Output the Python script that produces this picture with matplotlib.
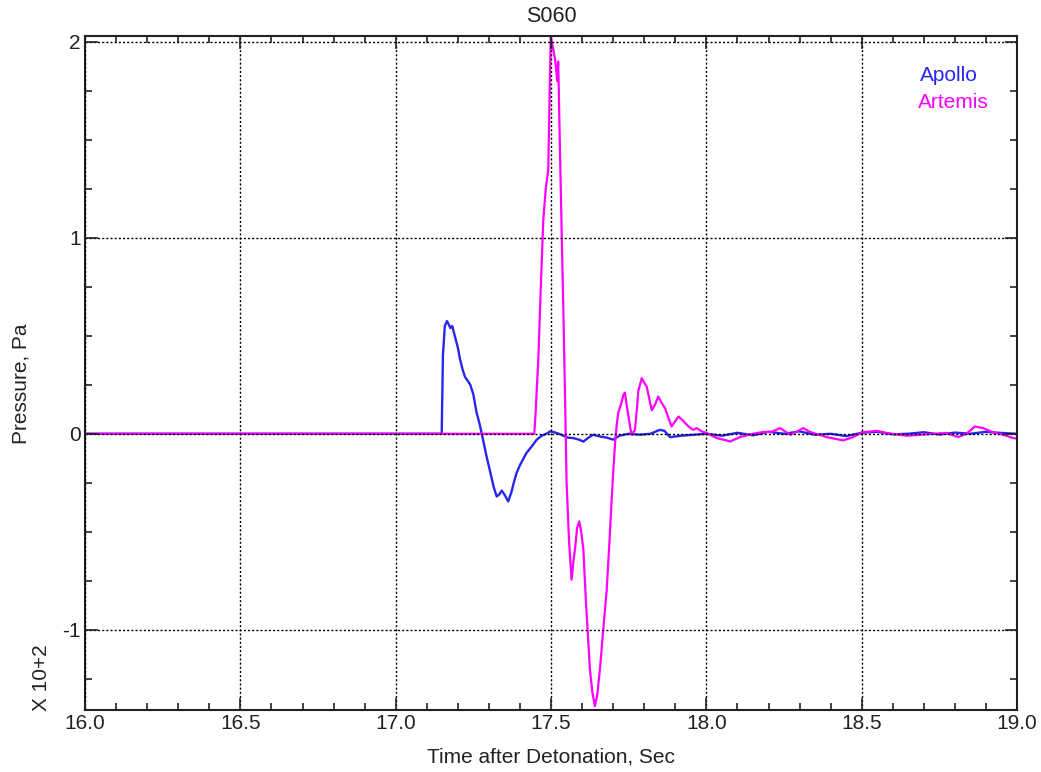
import matplotlib
matplotlib.use("Agg")
from matplotlib import pyplot as plt
from matplotlib.ticker import MultipleLocator, FormatStrFormatter

plt.rcParams['font.family'] = ['Liberation Sans', 'DejaVu Sans']

# Apollo trace (x 10^2 Pa)
apollo_t = [16.0, 17.148, 17.152, 17.158, 17.165, 17.170, 17.176, 17.182, 17.190,
            17.200, 17.207, 17.215, 17.223, 17.232, 17.240, 17.250, 17.260, 17.270,
            17.277, 17.285, 17.293, 17.305, 17.315, 17.325, 17.333, 17.341, 17.350,
            17.362, 17.372, 17.380, 17.389, 17.400, 17.420, 17.440, 17.454, 17.470,
            17.485, 17.497, 17.510, 17.525, 17.540, 17.555, 17.572, 17.590, 17.604,
            17.620, 17.636, 17.660, 17.680, 17.700, 17.720, 17.750, 17.786, 17.820,
            17.850, 17.865, 17.883, 17.920, 17.960, 18.000, 18.05, 18.10, 18.15,
            18.20, 18.25, 18.30, 18.35, 18.40, 18.45, 18.50, 18.55, 18.60, 18.65,
            18.70, 18.75, 18.80, 18.85, 18.90, 18.95, 19.0]
apollo_v = [0.0, 0.0, 0.40, 0.55, 0.575, 0.56, 0.54, 0.55, 0.50,
            0.44, 0.38, 0.33, 0.29, 0.27, 0.25, 0.20, 0.11, 0.05,
            0.0, -0.06, -0.12, -0.20, -0.27, -0.32, -0.31, -0.29, -0.31,
            -0.345, -0.30, -0.25, -0.20, -0.16, -0.10, -0.06, -0.03, -0.01,
            0.0, 0.012, 0.008, 0.0, -0.01, -0.02, -0.022, -0.03, -0.04,
            -0.02, -0.005, -0.015, -0.02, -0.03, -0.01, 0.0, -0.005, 0.0,
            0.02, 0.015, -0.017, -0.01, -0.005, 0.0, -0.01, 0.005, -0.008,
            0.01, 0.0, 0.012, -0.005, 0.0, -0.012, 0.005, 0.01, -0.003, 0.0,
            0.008, -0.004, 0.006, 0.0, 0.01, 0.004, 0.0]

# Artemis trace (x 10^2 Pa)
artemis_t = [16.0, 17.446, 17.450, 17.459, 17.467, 17.475, 17.483, 17.491, 17.495,
             17.499, 17.505, 17.513, 17.517, 17.520, 17.523, 17.528, 17.534, 17.540,
             17.545, 17.550, 17.558, 17.566, 17.572, 17.577, 17.584, 17.591, 17.597,
             17.604, 17.612, 17.625, 17.633, 17.641, 17.649, 17.658, 17.668, 17.679,
             17.688, 17.695, 17.701, 17.706, 17.711, 17.716, 17.727, 17.733, 17.738,
             17.743, 17.749, 17.755, 17.760, 17.770, 17.776, 17.781, 17.792, 17.800,
             17.808, 17.816, 17.824, 17.835, 17.845, 17.855, 17.867, 17.878, 17.888,
             17.898, 17.910, 17.923, 17.937, 17.948, 17.958, 17.969, 17.985, 18.0,
             18.033, 18.065, 18.076, 18.108, 18.150, 18.183, 18.210, 18.237, 18.255,
             18.27, 18.29, 18.312, 18.33, 18.344, 18.387, 18.44, 18.473, 18.50,
             18.548, 18.58, 18.645, 18.70, 18.73, 18.773, 18.81, 18.837, 18.864,
             18.891, 18.923, 18.955, 18.988, 19.0]
artemis_v = [0.0, 0.0, 0.10, 0.38, 0.75, 1.09, 1.25, 1.35, 1.70,
             2.03, 1.98, 1.91, 1.85, 1.80, 1.90, 1.50, 1.04, 0.60,
             0.19, -0.25, -0.55, -0.745, -0.65, -0.59, -0.48, -0.447, -0.50,
             -0.59, -0.85, -1.20, -1.32, -1.39, -1.33, -1.19, -1.00, -0.80,
             -0.55, -0.34, -0.17, -0.05, 0.04, 0.105, 0.16, 0.20, 0.21,
             0.15, 0.09, 0.03, -0.005, 0.02, 0.12, 0.22, 0.284, 0.26,
             0.24, 0.18, 0.12, 0.15, 0.19, 0.16, 0.131, 0.08, 0.037,
             0.06, 0.088, 0.07, 0.046, 0.03, 0.02, 0.029, 0.012, 0.004,
             -0.022, -0.034, -0.04, -0.017, 0.0, 0.009, 0.01, 0.029, 0.01,
             -0.005, 0.01, 0.029, 0.012, 0.004, -0.017, -0.034, -0.017, 0.007,
             0.015, 0.004, -0.01, -0.004, 0.0, 0.004, -0.017, 0.0, 0.037,
             0.029, 0.007, -0.005, -0.022, -0.025]

fig = plt.figure(figsize=(10.41, 7.72), dpi=100)
ax = fig.add_axes([0.0817, 0.0803, 0.8953, 0.873])

ax.plot(apollo_t, apollo_v, color='#2626f0', lw=1.7)
ax.plot(artemis_t, artemis_v, color='#ff00ff', lw=1.6)

ax.set_xlim(16.0, 19.0)
ax.set_ylim(-1.41, 2.03)
ax.xaxis.set_major_locator(MultipleLocator(0.5))
ax.xaxis.set_minor_locator(MultipleLocator(0.1))
ax.xaxis.set_major_formatter(FormatStrFormatter('%.1f'))
ax.yaxis.set_major_locator(MultipleLocator(1))
ax.yaxis.set_minor_locator(MultipleLocator(0.25))
ax.yaxis.set_major_formatter(FormatStrFormatter('%d'))
ax.tick_params(which='both', direction='in', top=True, right=True, labelsize=15,
               colors='#222222')
ax.tick_params(which='major', length=9, width=1.2, pad=3)
ax.tick_params(which='minor', length=5, width=1.2)
ax.grid(True, which='major', color='black', linestyle=(0, (1.5, 1.5)), lw=1.0)
ax.set_axisbelow(False)
for s in ax.spines.values():
    s.set_linewidth(1.5)
    s.set_color('#222222')

ax.set_title('S060', fontsize=15.5, pad=10, color='#222222')
ax.set_xlabel('Time after Detonation, Sec', fontsize=15, labelpad=10, color='#222222')
fig.text(0.020, 0.503, 'Pressure, Pa', rotation=90, ha='center', va='center',
         fontsize=15, color='#222222')
fig.text(0.040, 0.122, 'X 10+2', rotation=90, ha='center', va='center',
         fontsize=15, color='#222222')

ax.text(0.896, 0.941, 'Apollo', transform=ax.transAxes, color='#2626f0',
        fontsize=15, va='center', ha='left')
ax.text(0.894, 0.902, 'Artemis', transform=ax.transAxes, color='#ff00ff',
        fontsize=15, va='center', ha='left')

fig.savefig('out.png', dpi=100)
